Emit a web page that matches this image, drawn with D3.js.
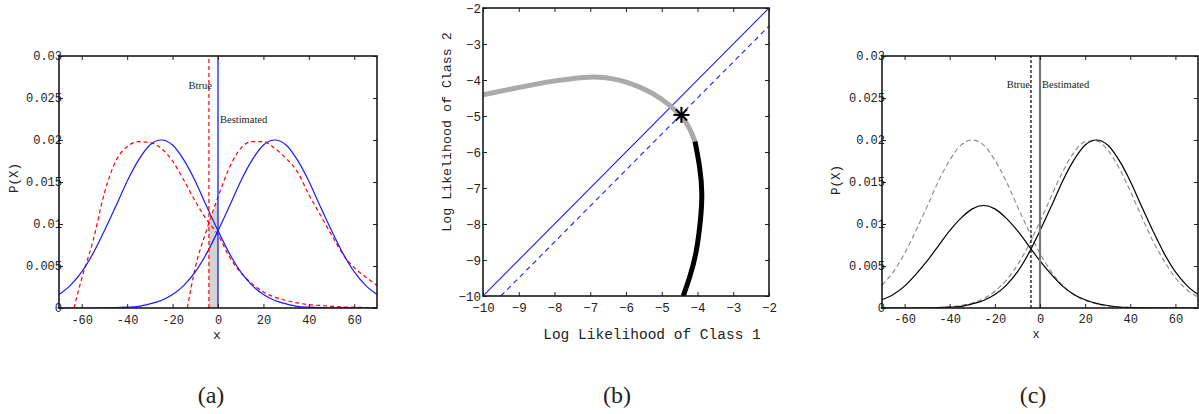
<!DOCTYPE html>
<html><head><meta charset="utf-8">
<script src="https://cdn.jsdelivr.net/npm/d3@7/dist/d3.min.js"></script>
<style>
html,body{margin:0;padding:0;background:#fff;}
svg{display:block;}
text{fill:#222;}
</style></head>
<body>
<svg id="chart" width="1199" height="414"></svg>
<script>
// ---------- data ----------
const xGrid = [-70,-65,-60,-55,-50,-45,-40,-35,-30,-25,-20,-15,-10,-5,0,5,10,15,20,25,30,35,40,45,50,55,60,65,70];
// panel (a): estimated class densities (blue, solid)
const blueLeftP  = [0.0016,0.0027,0.0043,0.0065,0.0092,0.0121,0.0151,0.0176,0.0194,0.0200,0.0194,0.0176,0.0151,0.0121,0.0092,0.0065,0.0043,0.0027,0.0016,0.0009,0.0005,0.0002,0.0001,0.00004,0.00002,0,0,0,0];
const blueRightP = [0,0,0,0,0.00002,0.00004,0.0001,0.0002,0.0005,0.0009,0.0016,0.0027,0.0043,0.0065,0.0092,0.0121,0.0151,0.0176,0.0194,0.0200,0.0194,0.0176,0.0151,0.0121,0.0092,0.0065,0.0043,0.0027,0.0016];
// panel (a): true class densities (red, dashed)
const redLeftX = [-63.4,-62,-60,-55,-50,-45,-40,-35,-30,-25,-20,-15,-10,-5,0,5,10,15,20,25,30,35,40,45,50,55,60,65,70];
const redLeftP = [0,0.0015,0.0035,0.0080,0.0137,0.0175,0.0192,0.0198,0.0197,0.0190,0.0175,0.0152,0.0127,0.0105,0.0087,0.0061,0.0042,0.0029,0.0019,0.0013,0.0009,0.0006,0.0004,0.0003,0.0002,0.00012,0.0001,0.00006,0.00004];
const redRightX = [-13.5,-12,-10,-5,0,5,10,15,20,25,30,35,40,45,50,55,60,65,70];
const redRightP = [0,0.0022,0.0048,0.0093,0.0132,0.0167,0.0190,0.0198,0.0198,0.0190,0.0178,0.0162,0.0135,0.0111,0.0087,0.0064,0.0048,0.0037,0.0027];
// shaded error region between the two boundaries
const shadeX = [-4,-2,0];
const shadeP = [0.0098,0.0114,0.0130];
const bTrue = -4, bEst = 0;
// panel (c)
const blackLeftP  = [0.00098,0.0016,0.0026,0.0040,0.0056,0.0074,0.0092,0.0107,0.0118,0.0122,0.0118,0.0107,0.0092,0.0074,0.0056,0.0040,0.0026,0.0016,0.00098,0.00055,0.0003,0.00012,0.00006,0.00003,0.00001,0,0,0,0];
const blackRightP = [0,0,0,0,0.00002,0.00004,0.0001,0.0002,0.0005,0.0009,0.0016,0.0027,0.0043,0.0065,0.0092,0.0121,0.0151,0.0176,0.0194,0.0200,0.0194,0.0176,0.0151,0.0121,0.0092,0.0065,0.0043,0.0027,0.0016];
const grayLeftP  = [0.0027,0.0043,0.0065,0.0092,0.0121,0.0151,0.0176,0.0194,0.0200,0.0194,0.0176,0.0151,0.0121,0.0092,0.0065,0.0043,0.0027,0.0016,0.0009,0.0005,0.0002,0.0001,0.00004,0.00002,0,0,0,0,0];
const grayRightP = [0,0,0,0,0,0.00006,0.00014,0.0003,0.0006,0.0011,0.0020,0.0033,0.0051,0.0075,0.0103,0.0133,0.0162,0.0185,0.0198,0.0199,0.0188,0.0167,0.0139,0.0109,0.0080,0.0056,0.0036,0.0022,0.0013];
// panel (b)
const upperLL1 = [-10,-8.96,-8.03,-7.1,-6.63,-6.17,-5.7,-5.24,-4.77,-4.4,-4.21,-4.07];
const upperLL2 = [-4.41,-4.2,-4.02,-3.91,-3.92,-4.0,-4.15,-4.37,-4.69,-5.06,-5.34,-5.71];
const lowerLL1 = [-4.07,-3.93,-3.86,-3.91,-4.03,-4.21,-4.4];
const lowerLL2 = [-5.71,-6.41,-7.15,-7.89,-8.82,-9.47,-10];
const diagLL1 = [-10,-2], diagLL2 = [-10,-2];
const shiftLL1 = [-9.5,-2], shiftLL2 = [-10,-2.5];
const starLL1 = -4.45, starLL2 = -4.97;
// ticks
const pxTicks = [-60,-40,-20,0,20,40,60];
const pyTicks = [0,0.005,0.01,0.015,0.02,0.025,0.03];
const llTicks = [-10,-9,-8,-7,-6,-5,-4,-3,-2];
const captions = ["(a)","(b)","(c)"];

// ---------- drawing ----------
const svg = d3.select("#chart");
const MONO = "'Liberation Mono', 'DejaVu Sans Mono', monospace";

function frameAxes(g, x, y, xt, yt, xfmt, yfmt, opts){
  const [x0,x1] = x.range(), [y0,y1] = y.range();
  const tk = 4;
  const bottom = g.append("g").attr("transform",`translate(0,${y0})`)
    .call(d3.axisBottom(x).tickValues(xt).tickFormat(xfmt).tickSizeInner(-tk).tickSizeOuter(0).tickPadding(opts.xpad));
  const top = g.append("g").attr("transform",`translate(0,${y1})`)
    .call(d3.axisTop(x).tickValues(xt).tickFormat("").tickSizeInner(-tk).tickSizeOuter(0));
  const left = g.append("g").attr("transform",`translate(${x0},0)`)
    .call(d3.axisLeft(y).tickValues(yt).tickFormat(yfmt).tickSizeInner(-tk).tickSizeOuter(0).tickPadding(opts.ypad));
  const right = g.append("g").attr("transform",`translate(${x1},0)`)
    .call(d3.axisRight(y).tickValues(yt).tickFormat("").tickSizeInner(-tk).tickSizeOuter(0));
  [bottom,top,left,right].forEach(a=>{
    a.select(".domain").remove();
    a.selectAll("line").attr("stroke","#222").attr("stroke-width",1);
    a.selectAll("text").attr("font-family",MONO).attr("font-size",opts.fs).attr("fill","#222");
  });
  g.append("rect").attr("x",x0).attr("y",y1).attr("width",x1-x0).attr("height",y0-y1)
    .attr("fill","none").attr("stroke","#1a1a1a").attr("stroke-width",1.6);
}

function densityPanel(x0,x1,y0,y1){
  const x = d3.scaleLinear().domain([-70,70]).range([x0,x1]);
  const y = d3.scaleLinear().domain([0,0.03]).range([y0,y1]);
  return {x,y};
}
const pLine = (x,y,xs) => d3.line().x((d,i)=>x(xs[i])).y(d=>y(d)).curve(d3.curveMonotoneX);

// ===== Panel (a) =====
{
  const g = svg.append("g");
  const {x,y} = densityPanel(59,377,308,56);
  const clipId="clipA";
  g.append("clipPath").attr("id",clipId).append("rect").attr("x",59).attr("y",56).attr("width",318).attr("height",252);
  const pg = g.append("g").attr("clip-path",`url(#${clipId})`);
  pg.append("path").datum(shadeP)
    .attr("d", d3.area().x((d,i)=>x(shadeX[i])).y0(y(0)).y1(d=>y(d)).curve(d3.curveMonotoneX))
    .attr("fill","#d3d3d3");
  pg.append("path").datum(redLeftP).attr("d",pLine(x,y,redLeftX)).attr("fill","none").attr("stroke","#ff0000").attr("stroke-width",1.2).attr("stroke-dasharray","4,3");
  pg.append("path").datum(redRightP).attr("d",pLine(x,y,redRightX)).attr("fill","none").attr("stroke","#ff0000").attr("stroke-width",1.2).attr("stroke-dasharray","4,3");
  pg.append("path").datum(blueLeftP).attr("d",pLine(x,y,xGrid)).attr("fill","none").attr("stroke","#1a1aff").attr("stroke-width",1.2);
  pg.append("path").datum(blueRightP).attr("d",pLine(x,y,xGrid)).attr("fill","none").attr("stroke","#1a1aff").attr("stroke-width",1.2);
  pg.append("line").attr("x1",x(bTrue)).attr("x2",x(bTrue)).attr("y1",y(0)).attr("y2",y(0.03))
    .attr("stroke","#ff0000").attr("stroke-width",1.2).attr("stroke-dasharray","4,3");
  pg.append("line").attr("x1",x(bEst)).attr("x2",x(bEst)).attr("y1",y(0)).attr("y2",y(0.03))
    .attr("stroke","#1a1aff").attr("stroke-width",1.3);
  frameAxes(g,x,y,pxTicks,pyTicks,d=>String(d),d=>String(d),{xpad:7,ypad:-3,fs:12});
  g.append("text").attr("x",x(bTrue)+3).attr("y",85).attr("dy","0.35em").attr("text-anchor","end")
    .attr("font-family","'Liberation Serif', serif").attr("font-size",10.5).text("Btrue");
  g.append("text").attr("x",x(bEst)+2).attr("y",119).attr("dy","0.35em")
    .attr("font-family","'Liberation Serif', serif").attr("font-size",10.5).text("Bestimated");
  g.append("text").attr("transform","translate(18,178) rotate(-90)").attr("text-anchor","middle")
    .attr("font-family",MONO).attr("font-size",12.5).text("P(X)");
  g.append("text").attr("x",217).attr("y",339).attr("text-anchor","middle")
    .attr("font-family",MONO).attr("font-size",13).text("x");
}

// ===== Panel (b) =====
{
  const g = svg.append("g");
  const x = d3.scaleLinear().domain([-10,-2]).range([483,769]);
  const y = d3.scaleLinear().domain([-10,-2]).range([296,8]);
  g.append("clipPath").attr("id","clipB").append("rect").attr("x",483).attr("y",8).attr("width",286).attr("height",288);
  const pg = g.append("g").attr("clip-path","url(#clipB)");
  const ln = (xs) => d3.line().x((d,i)=>x(xs[i])).y(d=>y(d));
  pg.append("path").datum(diagLL2).attr("d",ln(diagLL1)).attr("stroke","#1a1aff").attr("stroke-width",1.1).attr("fill","none");
  pg.append("path").datum(shiftLL2).attr("d",ln(shiftLL1)).attr("stroke","#1a1aff").attr("stroke-width",1.1).attr("stroke-dasharray","5,4").attr("fill","none");
  const cl = (xs) => d3.line().x((d,i)=>x(xs[i])).y(d=>y(d)).curve(d3.curveBasis);
  pg.append("path").datum(upperLL2).attr("d",cl(upperLL1)).attr("stroke","#aaaaaa").attr("stroke-width",5).attr("fill","none");
  pg.append("path").datum(lowerLL2).attr("d",cl(lowerLL1)).attr("stroke","#000").attr("stroke-width",5).attr("fill","none");
  const sx = x(starLL1), sy = y(starLL2), r = 8;
  const star = g.append("g").attr("transform",`translate(${sx},${sy})`);
  [0,45,90,135].forEach(a=>{
    const rad=a*Math.PI/180;
    star.append("line").attr("x1",-r*Math.cos(rad)).attr("y1",-r*Math.sin(rad))
      .attr("x2",r*Math.cos(rad)).attr("y2",r*Math.sin(rad)).attr("stroke","#000").attr("stroke-width",2);
  });
  const fmtB = d => String(d).replace("-","\u2212");
  frameAxes(g,x,y,llTicks,llTicks,fmtB,fmtB,{xpad:7,ypad:2,fs:12.5});
  g.append("text").attr("x",652).attr("y",339).attr("text-anchor","middle")
    .attr("font-family",MONO).attr("font-size",14.5).text("Log Likelihood of Class 1");
  g.append("text").attr("transform","translate(451,132) rotate(-90)").attr("text-anchor","middle")
    .attr("font-family",MONO).attr("font-size",13.3).text("Log Likelihood of Class 2");
}

// ===== Panel (c) =====
{
  const g = svg.append("g");
  const {x,y} = densityPanel(882,1198,308,56);
  g.append("clipPath").attr("id","clipC").append("rect").attr("x",882).attr("y",56).attr("width",316).attr("height",252);
  const pg = g.append("g").attr("clip-path","url(#clipC)");
  pg.append("path").datum(grayLeftP).attr("d",pLine(x,y,xGrid)).attr("fill","none").attr("stroke","#888").attr("stroke-width",1.1).attr("stroke-dasharray","5,3");
  pg.append("path").datum(grayRightP).attr("d",pLine(x,y,xGrid)).attr("fill","none").attr("stroke","#888").attr("stroke-width",1.1).attr("stroke-dasharray","5,3");
  pg.append("path").datum(blackLeftP).attr("d",pLine(x,y,xGrid)).attr("fill","none").attr("stroke","#000").attr("stroke-width",1.2);
  pg.append("path").datum(blackRightP).attr("d",pLine(x,y,xGrid)).attr("fill","none").attr("stroke","#000").attr("stroke-width",1.2);
  pg.append("line").attr("x1",x(bTrue)).attr("x2",x(bTrue)).attr("y1",y(0)).attr("y2",y(0.03))
    .attr("stroke","#222").attr("stroke-width",1.4).attr("stroke-dasharray","3,2");
  pg.append("line").attr("x1",x(bEst)).attr("x2",x(bEst)).attr("y1",y(0)).attr("y2",y(0.03))
    .attr("stroke","#777").attr("stroke-width",2.2);
  frameAxes(g,x,y,pxTicks,pyTicks,d=>String(d),d=>String(d),{xpad:6,ypad:-3,fs:12});
  g.append("text").attr("x",x(bTrue)-1).attr("y",84).attr("dy","0.35em").attr("text-anchor","end")
    .attr("font-family","'Liberation Serif', serif").attr("font-size",10.5).text("Btrue");
  g.append("text").attr("x",x(bEst)+2).attr("y",84).attr("dy","0.35em")
    .attr("font-family","'Liberation Serif', serif").attr("font-size",10.5).text("Bestimated");
  g.append("text").attr("transform","translate(840,180) rotate(-90)").attr("text-anchor","middle")
    .attr("font-family",MONO).attr("font-size",12.5).text("P(X)");
  g.append("text").attr("x",1036).attr("y",338).attr("text-anchor","middle")
    .attr("font-family",MONO).attr("font-size",12).text("x");
}

// captions
const capX = [211,617,1033];
svg.selectAll("text.cap").data(captions).join("text").attr("class","cap")
  .attr("x",(d,i)=>capX[i]).attr("y",403).attr("text-anchor","middle")
  .attr("font-family","'Liberation Serif', 'DejaVu Serif', serif").attr("font-size",24).attr("fill","#000")
  .text(d=>d);
</script>
</body></html>
